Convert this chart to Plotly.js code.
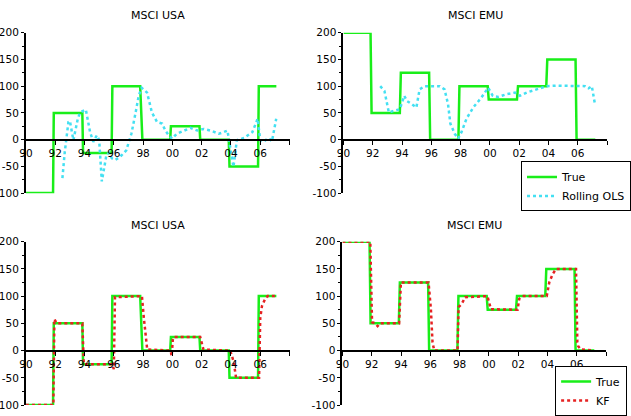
<!DOCTYPE html>
<html>
<head>
<meta charset="utf-8">
<script src="https://cdn.plot.ly/plotly-3.0.1.min.js"></script>
<style>html,body{margin:0;padding:0;background:#fff;}#chart{width:631px;height:416px;}</style>
</head>
<body>
<div id="chart"></div>
<script>
// ---- Data ----
const panelTitles = ['MSCI USA', 'MSCI EMU', 'MSCI USA', 'MSCI EMU'];
const xTickVals = [1990, 1992, 1994, 1996, 1998, 2000, 2002, 2004, 2006, 2008];
const xTickText = ['90', '92', '94', '96', '98', '00', '02', '04', '06', ''];
const yTickVals = [-100, -50, 0, 50, 100, 150, 200];
const yTickText = ['-100', '-50', '0', '50', '100', '150', '200'];

// True allocation (step function breakpoints)
const usaTrueX = [1990, 1991.85, 1991.9, 1993.85, 1993.9, 1995.85, 1995.9, 1997.8, 1997.95, 1999.85, 1999.9, 2001.85, 2001.9, 2003.85, 2003.9, 2005.85, 2005.9, 2007.1];
const usaTrueY = [-100, -100, 50, 50, -25, -25, 100, 100, 0, 0, 25, 25, 0, 0, -50, -50, 100, 100];
const emuTrueX = [1990, 1991.85, 1991.92, 1993.85, 1993.92, 1995.85, 1995.92, 1997.85, 1997.92, 1999.85, 1999.92, 2001.85, 2001.92, 2003.85, 2003.92, 2005.85, 2005.92, 2007.2];
const emuTrueY = [200, 200, 50, 50, 125, 125, 0, 0, 100, 100, 75, 75, 100, 100, 150, 150, 0, 0];

// Rolling OLS estimates
const usaOlsX = [1992.49, 1992.65, 1992.9, 1993.0, 1993.24, 1993.54, 1993.7, 1994.09, 1994.38, 1994.6, 1994.84, 1995.0, 1995.18, 1995.35, 1995.5, 1995.65, 1995.87, 1996.1, 1996.44, 1996.85, 1997.2, 1997.47, 1997.7, 1997.9, 1998.27, 1998.6, 1998.95, 1999.3, 1999.52, 1999.75, 1999.98, 2000.3, 2000.77, 2001.23, 2001.7, 2002.14, 2002.6, 2003.17, 2003.5, 2003.76, 2004.17, 2004.4, 2004.9, 2005.46, 2005.82, 2006.0, 2006.2, 2006.56, 2006.8, 2007.09];
const usaOlsY = [-72, -23, 33, 35, -1, 39, 51, 56, 14, -4, 8, -1, -78, -50, -28, -25, -35, -38, -32, -20, 11, 48, 82, 97, 88, 51, 33, 30, 17, 8, 2, 11, 17, 22, 17, 20, 17, 11, 14, 17, -51, -1, 3, 14, 39, -1, -4, 3, -3, 39];
const emuOlsX = [1992.51, 1992.8, 1993.1, 1993.5, 1993.85, 1994.15, 1994.35, 1994.64, 1994.98, 1995.2, 1995.55, 1996.58, 1996.9, 1997.14, 1997.3, 1997.6, 1997.83, 1998.06, 1998.4, 1998.86, 1999.43, 1999.88, 2000.2, 2000.57, 2001.14, 2001.71, 2002.05, 2002.51, 2003.2, 2003.88, 2004.6, 2005.94, 2006.5, 2006.73, 2006.96, 2007.19];
const emuOlsY = [100, 91, 51, 54, 57, 82, 72, 67, 60, 94, 100, 100, 94, 67, 30, 11, 2, 14, 39, 60, 79, 97, 82, 80, 85, 88, 82, 88, 94, 100, 101, 100, 100, 96, 100, 64];

// Kalman filter estimates
const usaKfX = [1990, 1991.87, 1991.94, 1992.1, 1993.85, 1993.95, 1995.88, 1996.0, 1996.08, 1997.92, 1998.05, 1998.17, 1998.28, 1999.88, 1999.95, 2000.03, 2000.1, 2001.9, 2002.12, 2003.95, 2004.18, 2004.35, 2005.92, 2006.0, 2006.12, 2006.35, 2006.5, 2007.1];
const usaKfY = [-100, -100, 58, 50, 50, -25, -25, -34, 98, 100, 60, 25, 2, 0, -10, 20, 25, 25, 2, 0, -20, -50, -50, 60, 82, 96, 100, 100];
const emuKfX = [1990, 1991.9, 1992.02, 1992.25, 1992.4, 1992.55, 1993.87, 1993.99, 1995.88, 1996.04, 1996.15, 1996.27, 1997.86, 1997.93, 1998.15, 1998.38, 1999.9, 2000.14, 2001.96, 2002.07, 2002.3, 2003.95, 2004.12, 2004.35, 2004.58, 2005.95, 2006.04, 2006.1, 2006.29, 2007.15];
const emuKfY = [200, 200, 52, 50, 45, 50, 50, 125, 125, 76, 15, 0, 0, 80, 86, 98, 100, 76, 75, 95, 100, 100, 125, 140, 150, 150, 15, 8, 2, 0];

// ---- Styling ----
const W = 631, H = 416;
const GREEN = '#19ee19', CYAN = '#44e0f2', RED = '#e62222';
const FONT = {family: 'DejaVu Sans, Arial, sans-serif', size: 11, color: '#000'};
const TICKFONT = {family: 'DejaVu Sans, Arial, sans-serif', size: 10.5, color: '#000'};

const xDomL = [26 / W, 290 / W], xDomR = [344 / W, 608 / W], xDomR2 = [343 / W, 607 / W];
const yDomT = [(H - 195) / H, (H - 33) / H];
const yDomB = [(H - 409) / H, (H - 244) / H];
function zeroPos(d) { return d[0] + (d[1] - d[0]) * (0 - (-100)) / (200 - (-100)); }

function xAxis(dom, ydom) {
  return {
    domain: dom, range: [1990, 2008], anchor: 'free', position: zeroPos(ydom),
    showline: true, linecolor: '#000', linewidth: 2,
    ticks: 'outside', ticklen: 4, tickcolor: '#000', tickwidth: 1,
    tickmode: 'array', tickvals: xTickVals, ticktext: xTickText,
    showgrid: false, zeroline: false, tickfont: TICKFONT, fixedrange: true
  };
}
function yAxis(dom, xname) {
  return {
    domain: dom, range: [-100, 200], anchor: xname,
    showline: true, linecolor: '#000', linewidth: 2,
    ticks: 'outside', ticklen: 3, tickcolor: '#000', tickwidth: 1,
    tickmode: 'array', tickvals: yTickVals, ticktext: yTickText,
    minor: {ticks: 'outside', ticklen: 2, tickcolor: '#000', dtick: 25, tick0: 0, showgrid: false},
    showgrid: false, zeroline: false, tickfont: TICKFONT, fixedrange: true
  };
}

const trueLine = {color: GREEN, width: 2.5};
const traces = [
  {x: usaTrueX, y: usaTrueY, xaxis: 'x', yaxis: 'y', mode: 'lines', line: trueLine, name: 'True', showlegend: false},
  {x: usaOlsX, y: usaOlsY, xaxis: 'x', yaxis: 'y', mode: 'lines', line: {color: CYAN, width: 2.5, dash: 'dot'}, name: 'Rolling OLS', showlegend: false},
  {x: emuTrueX, y: emuTrueY, xaxis: 'x2', yaxis: 'y2', mode: 'lines', line: trueLine, name: 'True', legend: 'legend'},
  {x: emuOlsX, y: emuOlsY, xaxis: 'x2', yaxis: 'y2', mode: 'lines', line: {color: CYAN, width: 2.5, dash: 'dot'}, name: 'Rolling OLS', legend: 'legend'},
  {x: usaTrueX, y: usaTrueY, xaxis: 'x3', yaxis: 'y3', mode: 'lines', line: trueLine, name: 'True', showlegend: false},
  {x: usaKfX, y: usaKfY, xaxis: 'x3', yaxis: 'y3', mode: 'lines', line: {color: RED, width: 2.5, dash: 'dot'}, name: 'KF', showlegend: false},
  {x: emuTrueX, y: emuTrueY, xaxis: 'x4', yaxis: 'y4', mode: 'lines', line: trueLine, name: 'True', legend: 'legend2'},
  {x: emuKfX, y: emuKfY, xaxis: 'x4', yaxis: 'y4', mode: 'lines', line: {color: RED, width: 2.5, dash: 'dot'}, name: 'KF', legend: 'legend2'}
];

const titlePos = [
  [(xDomL[0] + xDomL[1]) / 2, (H - 15.5) / H],
  [(xDomR[0] + xDomR[1]) / 2, (H - 15.5) / H],
  [(xDomL[0] + xDomL[1]) / 2, (H - 228) / H],
  [(xDomR2[0] + xDomR2[1]) / 2, (H - 228) / H]
];
const annotations = panelTitles.map((t, i) => ({
  text: t, xref: 'paper', yref: 'paper', x: titlePos[i][0], y: titlePos[i][1],
  xanchor: 'center', yanchor: 'middle', showarrow: false, font: FONT
}));

const legendBase = {
  xanchor: 'left', yanchor: 'top', bgcolor: '#fff', bordercolor: '#000', borderwidth: 1,
  font: FONT, tracegroupgap: 0, itemwidth: 30
};

const layout = {
  width: W, height: H, autosize: false,
  margin: {l: 0, r: 0, t: 0, b: 0, pad: 0},
  paper_bgcolor: '#fff', plot_bgcolor: '#fff',
  font: FONT,
  xaxis: xAxis(xDomL, yDomT), yaxis: yAxis(yDomT, 'x'),
  xaxis2: xAxis(xDomR, yDomT), yaxis2: yAxis(yDomT, 'x2'),
  xaxis3: xAxis(xDomL, yDomB), yaxis3: yAxis(yDomB, 'x3'),
  xaxis4: xAxis(xDomR2, yDomB), yaxis4: yAxis(yDomB, 'x4'),
  legend: Object.assign({}, legendBase, {x: 522 / W, y: (H - 163) / H}),
  legend2: Object.assign({}, legendBase, {x: 556 / W, y: (H - 370) / H}),
  annotations: annotations
};

Plotly.newPlot('chart', traces, layout, {staticPlot: true, displayModeBar: false});
</script>
</body>
</html>
